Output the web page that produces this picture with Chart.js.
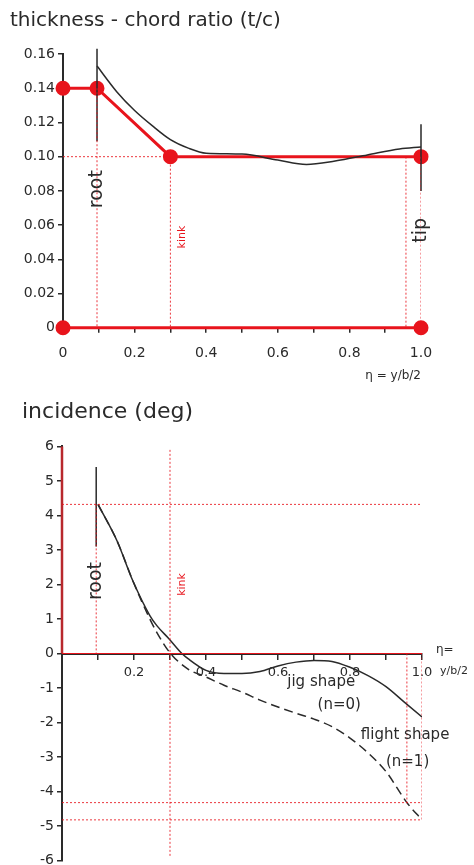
<!DOCTYPE html>
<html>
<head>
<meta charset="utf-8">
<script src="https://cdn.jsdelivr.net/npm/chart.js@4.4.1/dist/chart.umd.min.js"></script>
<style>
  body { margin: 0; background: #fff; overflow: hidden; }
  #box1 { position: absolute; left: 0; top: 0; width: 474px; height: 392px; }
  #box2 { position: absolute; left: 0; top: 392px; width: 474px; height: 480px; }
</style>
</head>
<body>
<div id="box1"><canvas id="chartTc"></canvas></div>
<div id="box2"><canvas id="chartInc"></canvas></div>
<script>
// spanwise stations (eta = y / (b/2))
const etaRoot = 0.095;
const etaKink = 0.3;
const etaNear = 0.958;
const etaTip = 1.0;

// thickness-chord ratio, red design polyline
const tcDesignEta = [0, 0.095, 0.3, 1.0];
const tcDesign = [0.14, 0.14, 0.10, 0.10];
// thin black measured curve
const tcCurveEta = [0.095, 0.15, 0.2, 0.25, 0.3, 0.35, 0.4, 0.5, 0.6, 0.68, 0.76, 0.85, 0.94, 1.0];
const tcCurve = [0.153, 0.138, 0.127, 0.118, 0.110, 0.105, 0.102, 0.1015, 0.098, 0.0955, 0.0975, 0.101, 0.1045, 0.1057];

// incidence, jig shape (n=0)
const jigEta = [0.1, 0.153, 0.197, 0.244, 0.264, 0.297, 0.333, 0.35, 0.4, 0.45, 0.5, 0.55, 0.6, 0.65, 0.7, 0.75, 0.8, 0.85, 0.9, 0.95, 1.0];
const jigInc = [4.32, 3.26, 2.1, 1.1, 0.8, 0.43, 0, -0.15, -0.49, -0.58, -0.58, -0.52, -0.36, -0.25, -0.2, -0.23, -0.4, -0.64, -0.96, -1.4, -1.84];
// incidence, flight shape (n=1)
const flightEta = [0.1, 0.153, 0.197, 0.244, 0.264, 0.3, 0.35, 0.4, 0.45, 0.5, 0.55, 0.6, 0.65, 0.7, 0.75, 0.8, 0.85, 0.9, 0.958, 1.0];
const flightInc = [4.32, 3.26, 2.1, 1.0, 0.6, 0.02, -0.45, -0.68, -0.92, -1.12, -1.35, -1.55, -1.73, -1.9, -2.12, -2.45, -2.88, -3.42, -4.32, -4.82];

const incRoot = 4.32;
const incNear = -4.32;
const incTip = -4.82;

const red = "#e8141c";
const redDot = "rgba(232, 20, 28, 0.85)";
const ink = "#2a2a2a";
const font = "DejaVu Sans";

function pts(xs, ys) {
  return xs.map((x, i) => ({ x: x, y: ys[i] }));
}

function guide(data) {
  return {
    data: data,
    borderColor: redDot,
    borderWidth: 1,
    borderDash: [2, 2],
    pointRadius: 0,
    showLine: true,
  };
}

// handwritten notes, placed through the scales
const notesPlugin = {
  id: "notes",
  afterDatasetsDraw(chart, args, opts) {
    const ctx = chart.ctx;
    const sx = chart.scales.x;
    const sy = chart.scales.y;
    ctx.save();
    opts.items.forEach((n) => {
      const px = sx.getPixelForValue(n.x) + (n.dx || 0);
      const py = sy.getPixelForValue(n.y) + (n.dy || 0);
      ctx.save();
      ctx.translate(px, py);
      if (n.rot) ctx.rotate(n.rot);
      ctx.font = (n.size || 14) + "px '" + font + "'";
      ctx.fillStyle = n.color || ink;
      ctx.textAlign = n.align || "center";
      ctx.textBaseline = "middle";
      ctx.fillText(n.text, 0, 0);
      ctx.restore();
    });
    ctx.restore();
  },
};

const axisStyle = {
  border: { color: ink, width: 2 },
  grid: { drawOnChartArea: false, color: ink, tickLength: 5, lineWidth: 1.5 },
};

// ---- top chart: thickness-chord ratio ----
new Chart(document.getElementById("chartTc"), {
  type: "scatter",
  data: {
    datasets: [
      guide([{ x: 0, y: 0.10 }, { x: etaKink, y: 0.10 }]),
      guide([{ x: etaRoot, y: 0.14 }, { x: etaRoot, y: 0 }]),
      guide([{ x: etaKink, y: 0.10 }, { x: etaKink, y: 0 }]),
      guide([{ x: etaNear, y: 0.10 }, { x: etaNear, y: 0 }]),
      guide([{ x: etaTip, y: 0.10 }, { x: etaTip, y: 0 }]),
      {
        data: [{ x: etaRoot, y: 0.163 }, { x: etaRoot, y: 0.109 }],
        borderColor: ink, borderWidth: 1.5, pointRadius: 0, showLine: true, clip: false,
      },
      {
        data: [{ x: etaTip, y: 0.119 }, { x: etaTip, y: 0.080 }],
        borderColor: ink, borderWidth: 1.5, pointRadius: 0, showLine: true, clip: false,
      },
      {
        data: pts(tcCurveEta, tcCurve),
        borderColor: ink, borderWidth: 1.5, pointRadius: 0, showLine: true,
        tension: 0.4, cubicInterpolationMode: "monotone",
      },
      {
        data: pts(tcDesignEta, tcDesign),
        borderColor: red, backgroundColor: red, borderWidth: 3,
        pointRadius: 6, showLine: true, clip: false,
      },
      {
        data: [{ x: 0, y: 0 }, { x: 1, y: 0 }],
        borderColor: red, backgroundColor: red, borderWidth: 3,
        pointRadius: 6, showLine: true, clip: false,
      },
    ],
  },
  options: {
    animation: false,
    responsive: true,
    maintainAspectRatio: false,
    layout: { padding: { left: 10, right: 53, top: 0, bottom: 0 } },
    plugins: {
      legend: { display: false },
      tooltip: { enabled: false },
      title: {
        display: true,
        text: "thickness - chord ratio (t/c)",
        align: "start",
        color: ink,
        font: { family: font, size: 20, weight: "normal" },
        padding: { top: 9, bottom: 21 },
      },
      notes: {
        items: [
          { text: "root", x: etaRoot, y: 0.081, rot: -Math.PI / 2, size: 19 },
          { text: "kink", x: etaKink, y: 0.053, dx: 12, rot: -Math.PI / 2, size: 11, color: red },
          { text: "tip", x: etaTip, y: 0.057, rot: -Math.PI / 2, size: 19 },
        ],
      },
    },
    scales: {
      x: {
        type: "linear",
        min: 0,
        max: 1,
        ...axisStyle,
        ticks: {
          stepSize: 0.1,
          color: ink,
          font: { family: font, size: 14 },
          padding: 12,
          callback: (v) => {
            const k = Math.round(v * 10);
            if (k % 2) return "";
            return k === 0 ? "0" : (k / 10).toFixed(1);
          },
        },
        title: {
          display: true,
          text: "η = y/b/2",
          align: "end",
          color: ink,
          font: { family: font, size: 12 },
          padding: { top: -5, bottom: 9 },
        },
      },
      y: {
        min: 0,
        max: 0.16,
        ...axisStyle,
        afterFit: (s) => { s.width = 53; },
        ticks: {
          stepSize: 0.01,
          color: ink,
          font: { family: font, size: 14 },
          callback: (v) => {
            const k = Math.round(v * 100);
            if (k % 2) return "";
            return k === 0 ? "0" : (k / 100).toFixed(2);
          },
        },
      },
    },
  },
  plugins: [notesPlugin],
});

// ---- bottom chart: incidence ----
new Chart(document.getElementById("chartInc"), {
  type: "scatter",
  data: {
    datasets: [
      guide([{ x: 0, y: incRoot }, { x: etaTip, y: incRoot }]),
      guide([{ x: etaRoot, y: incRoot }, { x: etaRoot, y: 0 }]),
      guide([{ x: etaKink, y: 5.9 }, { x: etaKink, y: -5.9 }]),
      guide([{ x: etaNear, y: 0 }, { x: etaNear, y: incNear }]),
      guide([{ x: etaTip, y: 0 }, { x: etaTip, y: incTip }]),
      guide([{ x: 0, y: incNear }, { x: etaTip, y: incNear }]),
      guide([{ x: 0, y: incTip }, { x: etaTip, y: incTip }]),
      {
        data: [{ x: 0, y: 0 }, { x: etaTip, y: 0 }],
        borderColor: red, borderWidth: 1, pointRadius: 0, showLine: true,
      },
      {
        data: [{ x: 0, y: 6 }, { x: 0, y: 0 }],
        borderColor: "#b8282c", borderWidth: 2.5, pointRadius: 0, showLine: true, clip: false,
      },
      {
        data: [{ x: etaRoot, y: 5.4 }, { x: etaRoot, y: 3.1 }],
        borderColor: ink, borderWidth: 1.5, pointRadius: 0, showLine: true,
      },
      {
        data: pts(jigEta, jigInc),
        borderColor: ink, borderWidth: 1.5, pointRadius: 0, showLine: true,
        tension: 0.4, cubicInterpolationMode: "monotone",
      },
      {
        data: pts(flightEta, flightInc),
        borderColor: ink, borderWidth: 1.5, borderDash: [9, 5], pointRadius: 0, showLine: true,
        tension: 0.4, cubicInterpolationMode: "monotone",
      },
    ],
  },
  options: {
    animation: false,
    responsive: true,
    maintainAspectRatio: false,
    layout: { padding: { left: 22, right: 52, top: 0, bottom: 0 } },
    plugins: {
      legend: { display: false },
      tooltip: { enabled: false },
      title: {
        display: true,
        text: "incidence (deg)",
        align: "start",
        color: ink,
        font: { family: font, size: 22, weight: "normal" },
        padding: { top: 7, bottom: 21 },
      },
      notes: {
        items: [
          { text: "root", x: etaRoot, y: 2.1, rot: -Math.PI / 2, size: 19 },
          { text: "kink", x: etaKink, y: 2.0, dx: 12, rot: -Math.PI / 2, size: 11, color: red },
          { text: "jig shape", x: 0.72, y: -0.84, size: 15 },
          { text: "(n=0)", x: 0.77, y: -1.5, size: 15 },
          { text: "flight shape", x: 0.953, y: -2.36, size: 15 },
          { text: "(n=1)", x: 0.96, y: -3.14, size: 15 },
          { text: "η=", x: 1.0, y: 0.1, dx: 14, align: "left", size: 12 },
          { text: "y/b/2", x: 1.0, y: -0.5, dx: 18, align: "left", size: 11 },
        ],
      },
    },
    scales: {
      x: {
        type: "linear",
        min: 0,
        max: 1,
        position: { y: 0 },
        ...axisStyle,
        ticks: {
          stepSize: 0.1,
          color: ink,
          font: { family: font, size: 13 },
          padding: 6,
          callback: (v) => {
            const k = Math.round(v * 10);
            if (k % 2 || k === 0) return "";
            return (k / 10).toFixed(1);
          },
        },
      },
      y: {
        min: -6,
        max: 6,
        ...axisStyle,
        afterFit: (s) => { s.width = 40; },
        ticks: {
          stepSize: 1,
          color: ink,
          font: { family: font, size: 14 },
        },
      },
    },
  },
  plugins: [notesPlugin],
});
</script>
</body>
</html>
